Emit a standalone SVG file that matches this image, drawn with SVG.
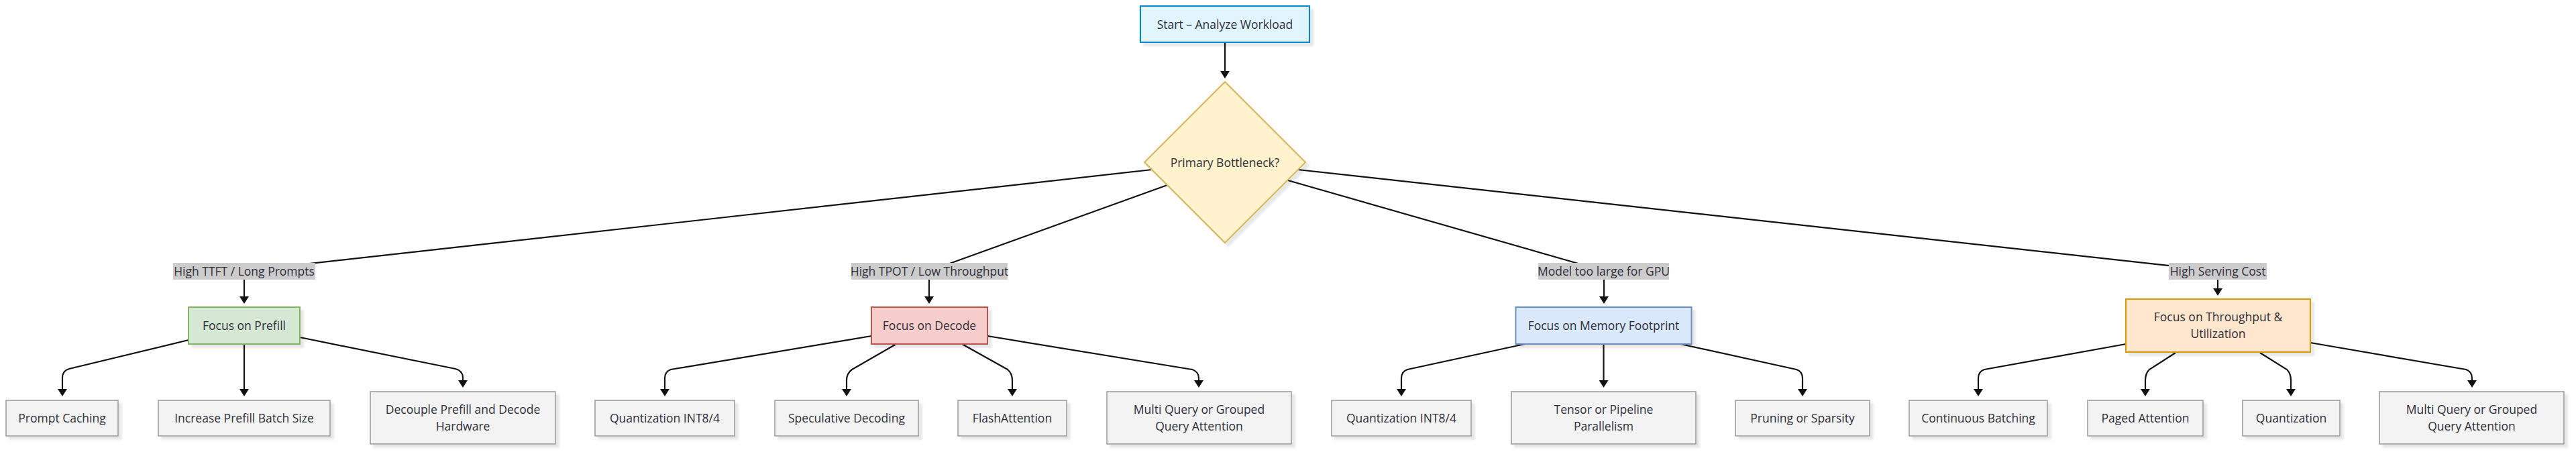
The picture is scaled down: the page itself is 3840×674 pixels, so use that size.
<svg xmlns="http://www.w3.org/2000/svg" width="3840" height="674" viewBox="0 0 3840 674">
<style>
text{font-family:"Open Sans","Noto Sans","Liberation Sans",sans-serif;font-size:17.5px;fill:#2f2f3a;text-anchor:middle}
.node rect,.node polygon{filter:url(#sh)}
.leaf rect{fill:#f3f3f3;stroke:#999;stroke-width:1.5}
.edge{fill:none;stroke:#111;stroke-width:2.2;marker-end:url(#arr)}
.lbl rect{fill:#cccccc}
</style>
<defs>
<filter id="sh" x="-10%" y="-10%" width="130%" height="140%">
<feDropShadow dx="5" dy="5" stdDeviation="1.5" flood-color="#000" flood-opacity="0.09"/>
</filter>
<marker id="arr" viewBox="0 0 11 14" refX="0" refY="7" markerWidth="11" markerHeight="14" markerUnits="userSpaceOnUse" orient="auto">
<path d="M0,0 L11,7 L0,14 z" fill="#111"/>
</marker>
</defs>
<g id="connectors">
<path class="edge" d="M1826,63 L1826,106"/>
<path class="edge" d="M1717,253 L364,404 L364,442"/>
<path class="edge" d="M1740,276 L1385,404 L1385,442"/>
<path class="edge" d="M1920,269 L2391,404 L2391,442"/>
<path class="edge" d="M1935,253 L3306,404 L3306,430"/>
<path class="edge" d="M281,507 L103,550 Q93,553 93,563 L93,580"/>
<path class="edge" d="M364,513 L364,580"/>
<path class="edge" d="M447,503 L679,550 Q690,553 690,563 L690,567"/>
<path class="edge" d="M1299,501 L1000,551 Q991,554 991,564 L991,580"/>
<path class="edge" d="M1336,513 L1270,551 Q1262,557 1262,567 L1262,580"/>
<path class="edge" d="M1434,513 L1502,551 Q1509,557 1509,567 L1509,580"/>
<path class="edge" d="M1472,501 L1777,551 Q1787,554 1787,564 L1787,567"/>
<path class="edge" d="M2273,513 L2098,551 Q2089,554 2089,564 L2089,580"/>
<path class="edge" d="M2390.5,513 L2390.5,567"/>
<path class="edge" d="M2505,513 L2678,551 Q2687,554 2687,564 L2687,580"/>
<path class="edge" d="M3169,513 L2958,551 Q2949,554 2949,564 L2949,580"/>
<path class="edge" d="M3243,526 L3204,551 Q3198,557 3198,567 L3198,580"/>
<path class="edge" d="M3369,526 L3409,551 Q3415,557 3415,567 L3415,580"/>
<path class="edge" d="M3444,511 L3676,551 Q3685,554 3685,564 L3685,567"/>
</g>
<g id="edge-labels">
<g class="lbl" id="lbl1"><rect x="258" y="392" width="212" height="25"/><text x="364" y="410.5">High TTFT / Long Prompts</text></g>
<g class="lbl" id="lbl2"><rect x="1269" y="392" width="233" height="25"/><text x="1385.5" y="410.5">High TPOT / Low Throughput</text></g>
<g class="lbl" id="lbl3"><rect x="2293" y="392" width="195" height="25"/><text x="2390.5" y="410.5">Model too large for GPU</text></g>
<g class="lbl" id="lbl4"><rect x="3233" y="392" width="146" height="25"/><text x="3306" y="410.5">High Serving Cost</text></g>
</g>
<g id="start" class="node"><rect x="1700" y="9" width="252" height="54" fill="#e1f5fe" stroke="#0288d1" stroke-width="2"/><text x="1826" y="42.5">Start – Analyze Workload</text></g>
<g id="bottleneck" class="node"><polygon points="1826,122 1946,242 1826,362 1706,242" fill="#fff2cc" stroke="#d6b656" stroke-width="2"/><text x="1826" y="248.5">Primary Bottleneck?</text></g>
<g id="prefill" class="node"><rect x="281" y="458" width="166" height="55" fill="#d5e8d4" stroke="#82b366" stroke-width="2"/><text x="364" y="491.5">Focus on Prefill</text></g>
<g id="decode" class="node"><rect x="1299" y="458" width="173" height="55" fill="#f8cecc" stroke="#b85450" stroke-width="2"/><text x="1385.5" y="491.5">Focus on Decode</text></g>
<g id="memory" class="node"><rect x="2259.5" y="458" width="262" height="55" fill="#dae8fc" stroke="#6c8ebf" stroke-width="2"/><text x="2390.5" y="491.5">Focus on Memory Footprint</text></g>
<g id="throughput" class="node"><rect x="3169" y="446" width="275" height="79" fill="#ffe6cc" stroke="#d79b00" stroke-width="2"/><text x="3306.5" y="478.5">Focus on Throughput &amp;</text><text x="3306.5" y="503.5">Utilization</text></g>
<g id="prompt-caching" class="node leaf"><rect x="9" y="597" width="167" height="53"/><text x="92.5" y="629.5">Prompt Caching</text></g>
<g id="increase-batch" class="node leaf"><rect x="236" y="597" width="256" height="53"/><text x="364" y="629.5">Increase Prefill Batch Size</text></g>
<g id="decouple" class="node leaf"><rect x="552" y="584" width="276" height="78"/><text x="690" y="616.5">Decouple Prefill and Decode</text><text x="690" y="641.5">Hardware</text></g>
<g id="quant-decode" class="node leaf"><rect x="887" y="597" width="208" height="53"/><text x="991" y="629.5">Quantization INT8/4</text></g>
<g id="speculative" class="node leaf"><rect x="1155" y="597" width="214" height="53"/><text x="1262" y="629.5">Speculative Decoding</text></g>
<g id="flash" class="node leaf"><rect x="1428" y="597" width="162" height="53"/><text x="1509" y="629.5">FlashAttention</text></g>
<g id="mqa-decode" class="node leaf"><rect x="1650" y="584" width="275" height="78"/><text x="1787.5" y="616.5">Multi Query or Grouped</text><text x="1787.5" y="641.5">Query Attention</text></g>
<g id="quant-memory" class="node leaf"><rect x="1985" y="597" width="208" height="53"/><text x="2089" y="629.5">Quantization INT8/4</text></g>
<g id="tensor" class="node leaf"><rect x="2253" y="584" width="275" height="78"/><text x="2390.5" y="616.5">Tensor or Pipeline</text><text x="2390.5" y="641.5">Parallelism</text></g>
<g id="pruning" class="node leaf"><rect x="2587" y="597" width="200" height="53"/><text x="2687" y="629.5">Pruning or Sparsity</text></g>
<g id="continuous" class="node leaf"><rect x="2846" y="597" width="206" height="53"/><text x="2949" y="629.5">Continuous Batching</text></g>
<g id="paged" class="node leaf"><rect x="3112" y="597" width="172" height="53"/><text x="3198" y="629.5">Paged Attention</text></g>
<g id="quant-throughput" class="node leaf"><rect x="3343" y="597" width="145" height="53"/><text x="3415.5" y="629.5">Quantization</text></g>
<g id="mqa-throughput" class="node leaf"><rect x="3547" y="584" width="275" height="78"/><text x="3684.5" y="616.5">Multi Query or Grouped</text><text x="3684.5" y="641.5">Query Attention</text></g>
</svg>
